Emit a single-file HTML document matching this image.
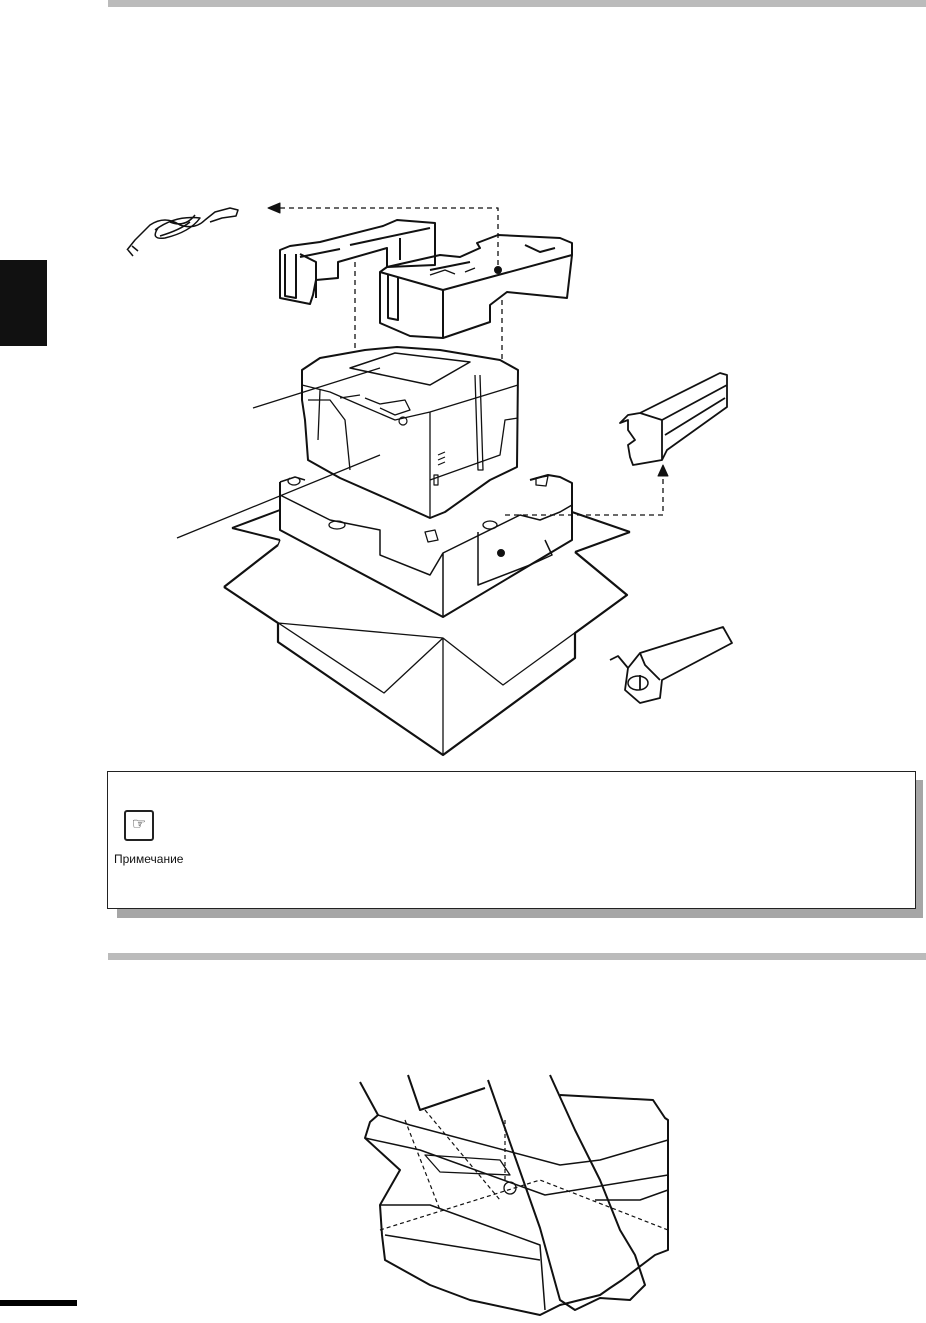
<!DOCTYPE html>
<html><head><meta charset="utf-8"><style>
html,body{margin:0;padding:0;background:#fff;}
body{width:926px;height:1323px;position:relative;overflow:hidden;font-family:"Liberation Sans",sans-serif;}
.abs{position:absolute;}
</style></head><body>
<div class="abs" style="left:108px;top:0;width:818px;height:7px;background:#bbb"></div>
<div class="abs" style="left:0;top:260px;width:47px;height:86px;background:#111"></div>
<div class="abs" style="left:108px;top:953px;width:818px;height:7px;background:#bbb"></div>
<div class="abs" style="left:0;top:1300px;width:77px;height:6px;background:#000"></div>
<div class="abs" style="left:117px;top:780px;width:806px;height:138px;background:#a6a6a6"></div>
<div class="abs" style="left:107px;top:771px;width:807px;height:136px;background:#fff;border:1px solid #222"></div>
<div class="abs" style="left:124px;top:810px;width:26px;height:27px;border:2px solid #222;border-radius:3px;font-size:16px;text-align:center;line-height:26px">☞</div>
<div class="abs" style="left:114px;top:852px;font-size:12px;color:#111">Примечание</div>
<svg class="abs" style="left:0;top:0" width="926" height="1323" viewBox="0 0 926 1323" fill="none" stroke="#111" stroke-width="2" stroke-linejoin="round">
<!-- cord -->
<g stroke-width="1.5">
<path d="M127 250 L135 240 L150 225 Q165 215 180 225 Q195 230 205 220 L215 212 L230 208 L238 210 L236 216 L222 218 L210 222"/>
<path d="M155 230 Q175 215 200 218 Q190 232 165 238 Q150 240 158 228 M170 222 Q185 228 195 215 M160 236 Q180 230 190 222"/>
<path d="M128 250 L133 256 M132 246 L138 251"/>
</g>
<!-- dashed -->
<g stroke-dasharray="5,4" stroke-width="1.3">
<path d="M280 208 L498 208 L498 268"/>
<path d="M355 262 L355 360 M502 300 L502 360"/>
<path d="M505 515 L663 515 L663 475"/>
</g>
<path d="M268 208 L280 203 L280 213 Z M663 465 L658 476 L668 476 Z" fill="#111" stroke-width="1"/>
<!-- left foam -->
<path d="M280 250 L280 298 L310 304 L313 295 L316 280 L338 278 L338 262 L387 248 L387 267 L435 265 L435 223 L397 220 L383 226 L320 242 L290 246 Z"/>
<path d="M285 254 L285 296 L296 298 L296 254 M300 257 L340 249 M300 254 L316 262 L316 298 M350 245 L430 228 M400 238 L400 260"/>
<!-- right foam -->
<path d="M380 272 L380 323 L410 336 L443 338 L490 322 L490 305 L507 292 L567 298 L572 255 L572 243 L560 238 L498 235 L477 243 L480 248 L460 257 L440 255 L387 267 Z"/>
<path d="M380 272 L443 290 L443 338 M443 290 L572 255 M388 275 L388 318 L398 320 L398 278 M430 270 L470 262 M525 245 L540 252 L555 248"/>
<path d="M430 275 L445 270 L455 274 M465 272 L475 268" stroke-width="1.3"/>
<circle cx="498" cy="270" r="3" fill="#111"/>
<!-- base foam -->
<path d="M280 482 L280 530 L443 617 L572 540 L572 483 L560 477 L548 475 L530 480"/>
<path d="M280 482 L295 477 L305 480 M443 553 L443 617 M280 495 L330 520 L380 530 L380 555 L430 575 L443 553 L520 515 L540 520 L560 512 L572 505" stroke-width="1.5"/>
<path d="M478 532 L478 585 L530 565 L552 555 L545 540 M478 585 L478 577" stroke-width="1.5"/>
<path d="M290 478 A6 4 0 1 0 298 478" stroke-width="1.3"/>
<ellipse cx="337" cy="525" rx="8" ry="4" stroke-width="1.3"/><ellipse cx="490" cy="525" rx="7" ry="4" stroke-width="1.3"/>
<path d="M425 532 L435 530 L438 540 L428 542 Z M536 478 L548 476 L546 486 L536 485 Z" stroke-width="1.3"/>
<circle cx="501" cy="553" r="3" fill="#111"/>
<!-- printer -->
<path d="M302 370 L320 358 L365 350 L397 347 L440 350 L500 360 L518 370 L517 467 L490 480 L445 512 L430 518 L390 500 L340 478 L308 460 L305 420 L302 400 Z" fill="#fff"/>
<path d="M350 368 L395 353 L470 362 L430 385 Z" stroke-width="1.5"/>
<path d="M302 385 L330 392 L360 405 L395 420 L430 412 L518 385 M430 412 L430 518 M308 400 L330 400 L345 420 L350 470 M320 390 L318 440 M340 398 L360 395 M365 398 L380 404 L405 400 L410 410 L395 415 L380 408 M430 480 L500 455 L505 420 L518 418" stroke-width="1.3"/>
<path d="M475 375 L478 470 L483 470 L480 375" stroke-width="1.3"/>
<circle cx="403" cy="421" r="4" stroke-width="1.2"/>
<path d="M438 455 L445 452 M438 460 L445 457 M438 465 L445 462 M434 475 L438 475 L438 485 L434 485 Z" stroke-width="1.2"/>
<!-- box -->
<path d="M232 528 L280 510 M630 532 L572 512 M630 532 L575 552"/>
<path d="M224 587 L278 545 M224 587 L278 623 L278 642 L443 755 L575 658 L575 633 L627 595 L575 552" stroke-width="2.2"/>
<path d="M224 587 L384 693 L443 638 L503 685 L627 595 M443 638 L443 755 M278 545 L280 540 M278 623 L443 638" stroke-width="1.3"/>
<path d="M232 528 L280 540" stroke-width="2"/>
<!-- leaders -->
<path d="M253 408 L380 368 M177 538 L380 455" stroke-width="1.3"/>
<!-- toner -->
<path d="M620 423 L628 420 L628 430 L635 440 L628 445 L630 457 L633 465 L662 460 L667 450 L727 407 L727 375 L720 373 L640 413 L628 415 Z M640 413 L662 420 L662 460 M662 420 L727 385 M665 435 L725 398" stroke-width="1.8"/>
<!-- drum -->
<path d="M610 660 L618 656 L628 668 L625 690 L640 703 L660 698 L662 680 L732 643 L723 627 L640 653 L628 668 M660 680 L645 665 L640 653 M640 690 L640 675" stroke-width="1.8"/>
<ellipse cx="638" cy="683" rx="10" ry="7" stroke-width="1.5"/>
<!-- bottom printer -->
<path d="M360 1082 L378 1115 L370 1122 L365 1138 L400 1170 L380 1205 L382 1235 L385 1260 L430 1285 L470 1300 L540 1315 L560 1305 L600 1295 L610 1288 L622 1280 L655 1255 L668 1250 L668 1120 L665 1118 L653 1100 L560 1095 M408 1075 L420 1110 L485 1088 M488 1080 L540 1228 L560 1300 L575 1310 L600 1298 L630 1300 L645 1285 L635 1255 L620 1230 L600 1180 L575 1130 L550 1075"/>
<path d="M378 1115 L410 1125 L560 1165 L600 1160 L668 1140 M365 1138 L420 1150 L545 1195 L668 1175 M385 1235 L540 1260 M380 1205 L430 1205 L540 1245 L545 1310 M595 1200 L640 1200 L668 1190" stroke-width="1.5"/>
<path d="M425 1155 L500 1160 L510 1175 L440 1172 Z" stroke-width="1.3"/>
<circle cx="510" cy="1188" r="6" stroke-width="1.3"/>
<g stroke-dasharray="4,3" stroke-width="1.2"><path d="M405 1120 L440 1210 M425 1110 L500 1200 M505 1120 L505 1180 M380 1230 L540 1180 L668 1230"/></g>
</svg>
</body></html>
